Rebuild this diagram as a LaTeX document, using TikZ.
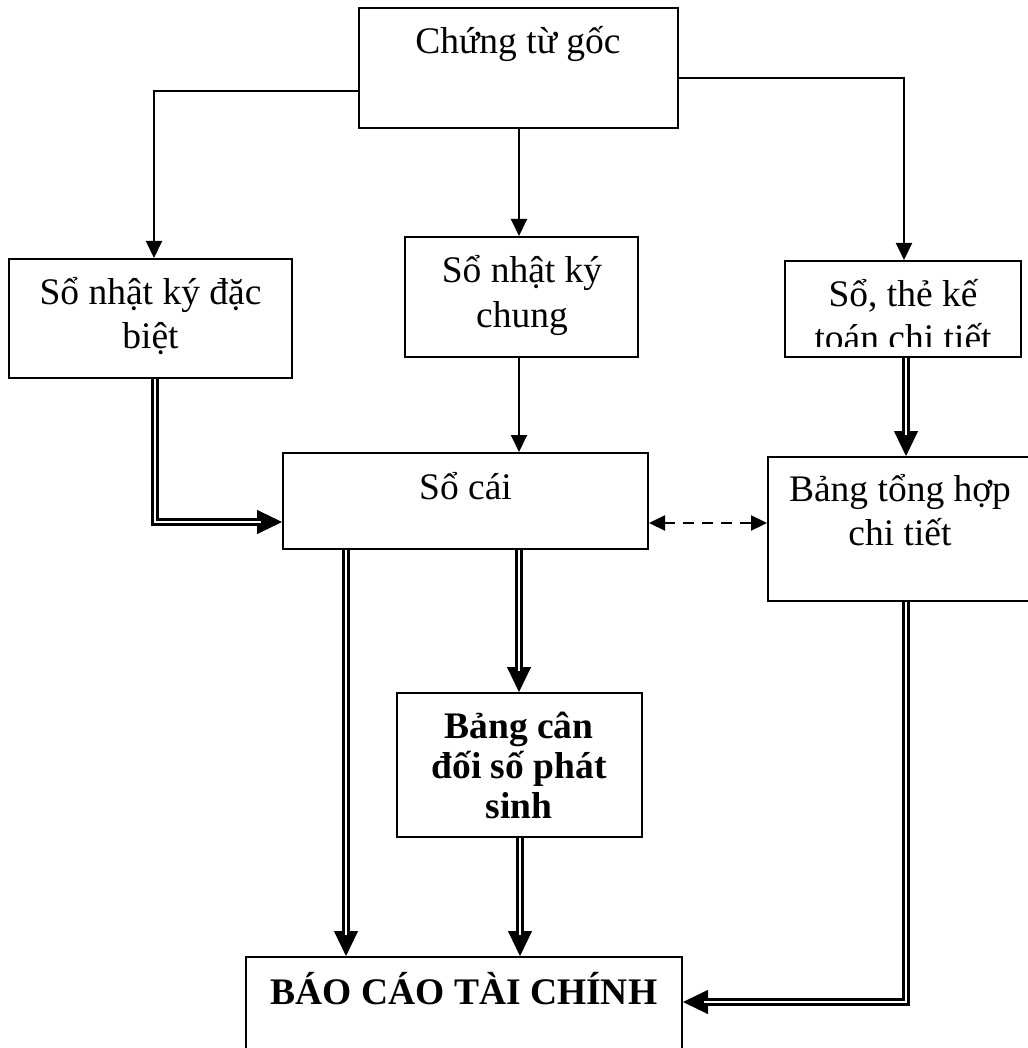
\documentclass[tikz,border=0pt]{standalone}
\usepackage{fontspec}
\setmainfont{Liberation Serif}
\usetikzlibrary{arrows.meta,calc}
\begin{document}
\begin{tikzpicture}[x=1pt,y=-1pt,
  box/.style={draw, line width=2pt, inner sep=0pt},
  txt/.style={font=\fontsize{37.5}{44}\selectfont, inner sep=0pt, anchor=base},
  btxt/.style={font=\fontsize{37.5}{40}\selectfont\bfseries, inner sep=0pt, anchor=base},
  arr/.style={line width=2pt, -{Triangle[length=17pt,width=16pt]}},
  dblline/.style={double, line width=2.6pt, double distance=2.8pt, shorten >=21pt},
  dbltip/.style={line width=1pt, -{Triangle[length=25pt,width=24pt]}},
  dashar/.style={line width=2.2pt, dash pattern=on 11pt off 8pt,
    {Triangle[length=16pt,width=15pt]}-{Triangle[length=16pt,width=15pt]}}
]
\useasboundingbox (0,0) rectangle (1027,1048);

% boxes
\node[box, minimum width=319pt, minimum height=120pt] (goc) at (518.5,68) {};
\node[box, minimum width=283pt, minimum height=119pt] (dacbiet) at (150.5,318.5) {};
\node[box, minimum width=233pt, minimum height=120pt] (chung) at (521.5,297) {};
\node[box, minimum width=236pt, minimum height=96pt] (chitiet) at (903,309) {};
\node[box, minimum width=365pt, minimum height=96pt] (socai) at (465.5,501) {};
\node[box, minimum width=266pt, minimum height=144pt] (tonghop) at (901,529) {};
\node[box, minimum width=245pt, minimum height=144pt] (candoi) at (519.5,765) {};
\node[box, minimum width=436pt, minimum height=113pt] (bctc) at (464,1013.5) {};

% texts
\node[txt] (tgoc) at (518,54) {Chứng từ gốc};
\node[txt] (tdacbiet) at (150.5,304) {\begin{tabular}[t]{@{}c@{}}Sổ nhật ký đặc\\biệt\end{tabular}};
\node[txt] (tchung) at (522,283) {\begin{tabular}[t]{@{}c@{}}Sổ nhật ký\\chung\end{tabular}};
\begin{scope}
  \clip (chitiet.north west) rectangle (chitiet.east |- 0,346);
  \node[txt] (tchitiet) at (903,306) {\begin{tabular}[t]{@{}c@{}}Sổ, thẻ kế\\toán chi tiết\end{tabular}};
\end{scope}
\node[txt] (tsocai) at (465.5,499) {Sổ cái};
\node[txt] (ttonghop) at (900,501) {\begin{tabular}[t]{@{}c@{}}Bảng tổng hợp\\chi tiết\end{tabular}};
\node[btxt] (tcandoi) at (519,738) {\begin{tabular}[t]{@{}c@{}}Bảng cân\\đối số phát\\sinh\end{tabular}};
\node[btxt] (tbctc) at (464,1004) {BÁO CÁO TÀI CHÍNH};

% single arrows
\draw[arr] (goc.west |- 0,91) -| (dacbiet.north -| 154,0);
\draw[arr] (goc.south -| 519,0) -- (chung.north -| 519,0);
\draw[arr] (goc.east |- 0,78) -| (chitiet.north -| 904,0);
\draw[arr] (chung.south -| 519,0) -- (socai.north -| 519,0);

% dashed bidirectional
\draw[dashar] (socai.east |- 0,523) -- (tonghop.west |- 0,523);

% double arrows
\draw[dbltip] (dacbiet.south -| 155,0) |- (socai.west |- 0,522);
\draw[dblline] (dacbiet.south -| 155,0) |- (socai.west |- 0,522);
\draw[dbltip] (chitiet.south -| 906,0) -- (tonghop.north -| 906,0);
\draw[dblline] (chitiet.south -| 906,0) -- (tonghop.north -| 906,0);
\draw[dbltip] (socai.south -| 346,0) -- (bctc.north -| 346,0);
\draw[dblline] (socai.south -| 346,0) -- (bctc.north -| 346,0);
\draw[dbltip] (socai.south -| 519,0) -- (candoi.north -| 519,0);
\draw[dblline] (socai.south -| 519,0) -- (candoi.north -| 519,0);
\draw[dbltip] (candoi.south -| 520,0) -- (bctc.north -| 520,0);
\draw[dblline] (candoi.south -| 520,0) -- (bctc.north -| 520,0);
\draw[dbltip] (tonghop.south -| 906,0) |- (bctc.east |- 0,1002);
\draw[dblline] (tonghop.south -| 906,0) |- (bctc.east |- 0,1002);
\end{tikzpicture}
\end{document}
